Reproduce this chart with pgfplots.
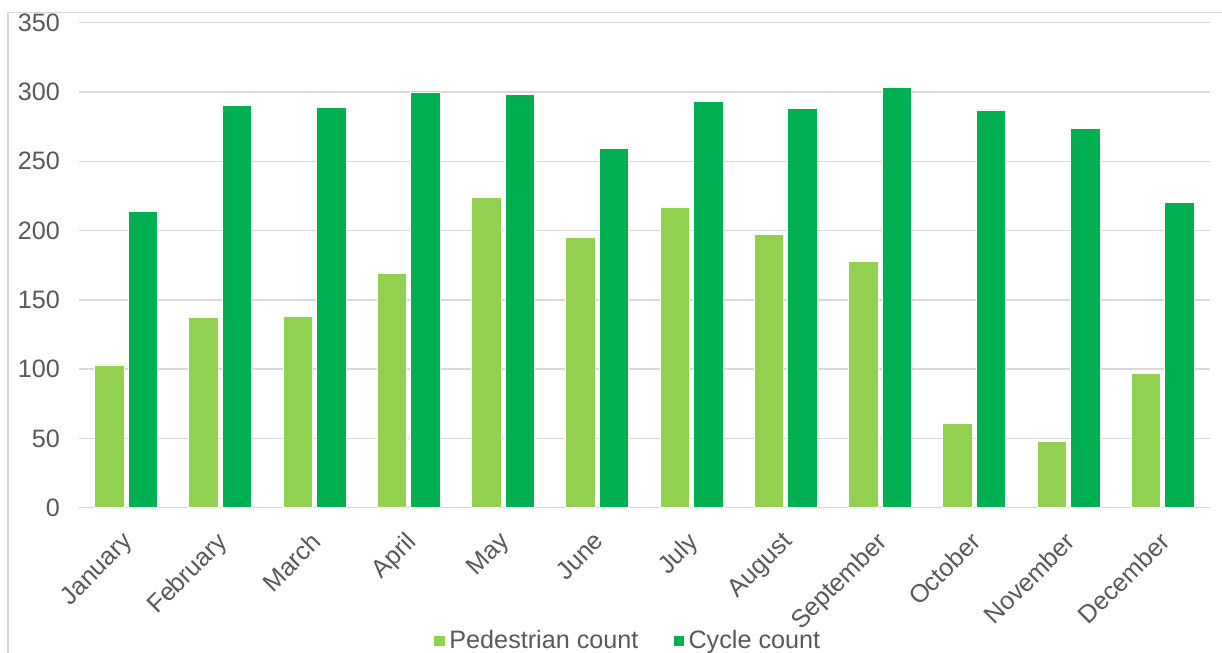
\documentclass[border=0pt]{standalone}
\usepackage{fontspec}
\setmainfont{Liberation Sans}
\usepackage{pgfplots}
\pgfplotsset{compat=1.18}
\definecolor{ped}{HTML}{92D050}
\definecolor{cyc}{HTML}{00B050}
\definecolor{txt}{HTML}{595959}
\definecolor{gridc}{HTML}{D9D9D9}
\begin{document}
\begin{tikzpicture}
\useasboundingbox (0,0) rectangle (611pt,326.5pt);
\draw[gridc, line width=0.6pt] (4pt,0pt) -- (4pt,320.35pt) -- (611pt,320.35pt);
\begin{axis}[
  at={(39.5pt,72.65pt)}, anchor=south west,
  scale only axis, width=565.5pt, height=242.5pt,
  ymin=0, ymax=350, ytick={0,50,...,350},
  xmin=-0.5, xmax=11.5,
  xtick={0,...,11},
  xticklabels={January,February,March,April,May,June,July,August,September,October,November,December},
  ybar=2pt, bar width=14.75pt,
  axis line style={draw=none},
  major tick length=0pt,
  xmajorgrids=false,
  ymajorgrids=true,
  y grid style={draw=gridc, line width=0.75pt},
  tick label style={font=\fontsize{12.6}{14}\selectfont, text=txt},
  /pgf/number format/assume math mode=true,
  yticklabel style={xshift=-6pt},
  xticklabel style={anchor=north east, inner sep=1pt, xshift=-2.4pt, yshift=-9.75pt, rotate=45},
  legend style={draw=none, fill=none, font=\fontsize{12.6}{14}\selectfont, text=txt,
    at={(0.313,-0.2746)}, anchor=west, legend columns=2,
    /tikz/every even column/.append style={column sep=15pt}, inner sep=0pt},
  legend image code/.code={\fill[#1] (0pt,-2.8pt) rectangle (5.6pt,2.8pt);},
  legend cell align=left,
]
\addplot[fill=ped, draw=white, line width=0.4pt] coordinates {
(0,103) (1,137) (2,138) (3,169) (4,224) (5,195) (6,217) (7,197) (8,178) (9,61) (10,48) (11,97)};
\addplot[fill=cyc, draw=white, line width=0.4pt] coordinates {
(0,214) (1,290) (2,289) (3,300) (4,298) (5,259) (6,293) (7,288) (8,303) (9,287) (10,274) (11,220)};
\legend{Pedestrian count, Cycle count}
\end{axis}
\end{tikzpicture}
\end{document}
